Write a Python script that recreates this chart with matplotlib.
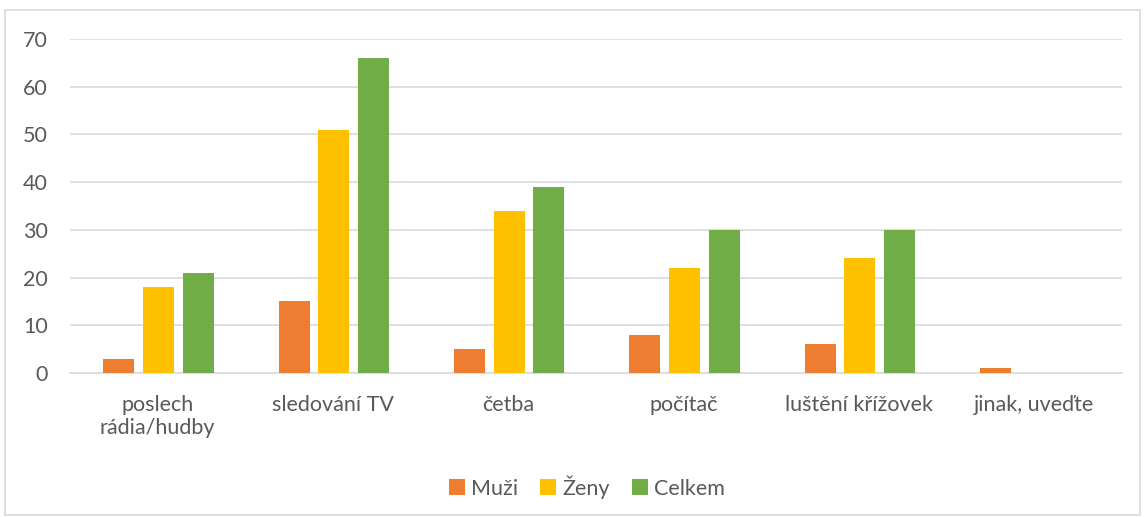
import matplotlib
matplotlib.use("Agg")
import matplotlib.pyplot as plt
from matplotlib.patches import Rectangle
import numpy as np

categories = ["poslech\nrádia/hudby", "sledování TV", "četba", "počítač", "luštění křížovek", "jinak, uveďte"]
muzi = [3, 15, 5, 8, 6, 1]
zeny = [18, 51, 34, 22, 24, 0]
celkem = [21, 66, 39, 30, 30, 0]
series_names = ["Muži", "Ženy", "Celkem"]
colors = ["#ED7D31", "#FFC000", "#70AD47"]
yticks = [0, 10, 20, 30, 40, 50, 60, 70]

plt.rcParams['font.family'] = ['Lato', 'DejaVu Sans']

fig = plt.figure(figsize=(11.45, 5.17), dpi=100)
fig.patches.append(Rectangle((5/1145, 2/517), 1135/1145, 505/517, transform=fig.transFigure,
                             fill=False, edgecolor="#D9D9D9", linewidth=1.2))
ax = fig.add_axes([70/1145, 1-373/517, 1052/1145, (373-39)/517])

x = np.arange(len(categories))
w = 0.177
off = 0.226
for i, (vals, name, c) in enumerate(zip([muzi, zeny, celkem], series_names, colors)):
    ax.bar(x + (i-1)*off + 0.005, vals, width=w, color=c, label=name, zorder=3)

ax.set_xlim(-0.5, len(categories)-0.5)
ax.set_ylim(0, 70)
ax.set_yticks(yticks)
ax.yaxis.grid(True, color="#D9D9D9", linewidth=1.2, zorder=0)
for s in ["top", "right", "left"]:
    ax.spines[s].set_visible(False)
ax.spines["bottom"].set_color("#D9D9D9")
ax.spines["bottom"].set_linewidth(1.2)
ax.tick_params(axis="both", length=0, labelsize=15.5, labelcolor="#595959")
ax.tick_params(axis="y", pad=16)
ax.tick_params(axis="x", pad=16)
ax.set_xticks(x)
ax.set_xticklabels(categories, linespacing=1.15)

leg = fig.legend(loc="center", bbox_to_anchor=(587/1145, 1-487/517), ncol=3, frameon=False,
                 fontsize=15.5, handlelength=0.75, handleheight=0.75, handletextpad=0.3, columnspacing=1.0)
for t in leg.get_texts():
    t.set_color("#595959")

fig.savefig("out.png", dpi=100)
